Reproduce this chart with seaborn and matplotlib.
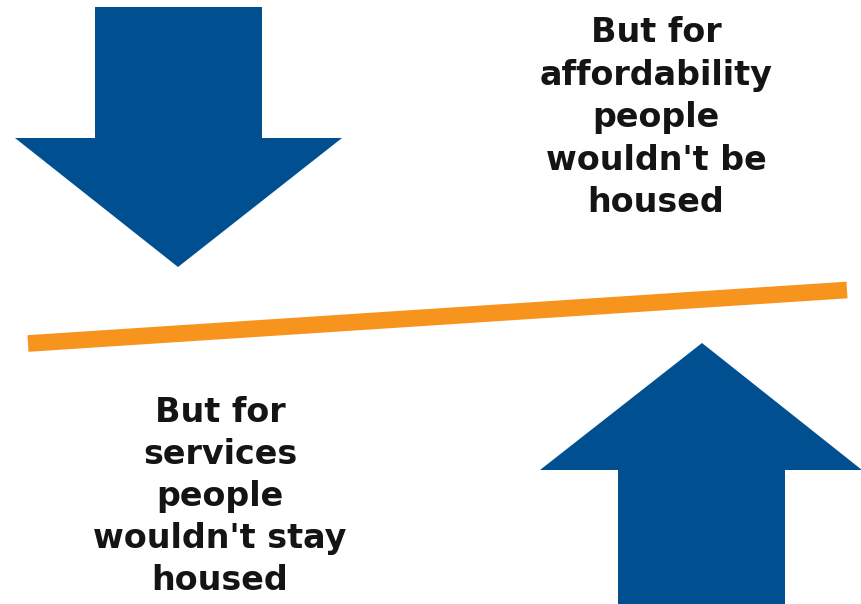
import matplotlib
matplotlib.use("Agg")
import numpy as np
import pandas as pd
import seaborn as sns
from matplotlib import pyplot as plt

# shapes in pixel coordinates (x to the right, y downwards)
down_arrow_x = [95, 262, 262, 342, 178, 15, 95]
down_arrow_y = [7, 7, 138, 138, 267, 138, 138]
up_arrow_x = [618, 785, 785, 862, 702, 540, 618]
up_arrow_y = [604, 604, 470, 470, 343, 470, 470]

line_x = [28, 847]
line_y = [343.5, 290]

top_lines = ["But for", "affordability", "people", "wouldn't be", "housed"]
top_center = 656
top_baselines = [42, 84.5, 127, 169.5, 212]

bottom_lines = ["But for", "services", "people", "wouldn't stay", "housed"]
bottom_center = 220
bottom_baselines = [422, 464, 506, 548, 590]

blue = "#005091"
orange = "#F7941D"

sns.set_theme(style="white")
plt.rcParams["font.family"] = ["DejaVu Sans"]

fig = plt.figure(figsize=(8.62, 6.04), dpi=100)
ax = fig.add_axes([0, 0, 1, 1])

ax.fill(down_arrow_x, down_arrow_y, color=blue, lw=0)
ax.fill(up_arrow_x, up_arrow_y, color=blue, lw=0)

balance = pd.DataFrame({"x": line_x, "y": line_y})
sns.lineplot(data=balance, x="x", y="y", ax=ax, color=orange, linewidth=12,
             solid_capstyle="butt", legend=False)
ax.set_xlim(0, 862)
ax.set_ylim(604, 0)
ax.axis("off")

for text, base in zip(top_lines, top_baselines):
    ax.text(top_center, base, text, ha="center", va="baseline",
            fontsize=24, fontweight="bold", color="#141414")
for text, base in zip(bottom_lines, bottom_baselines):
    ax.text(bottom_center, base, text, ha="center", va="baseline",
            fontsize=24, fontweight="bold", color="#141414")

fig.savefig("out.png", dpi=100)
